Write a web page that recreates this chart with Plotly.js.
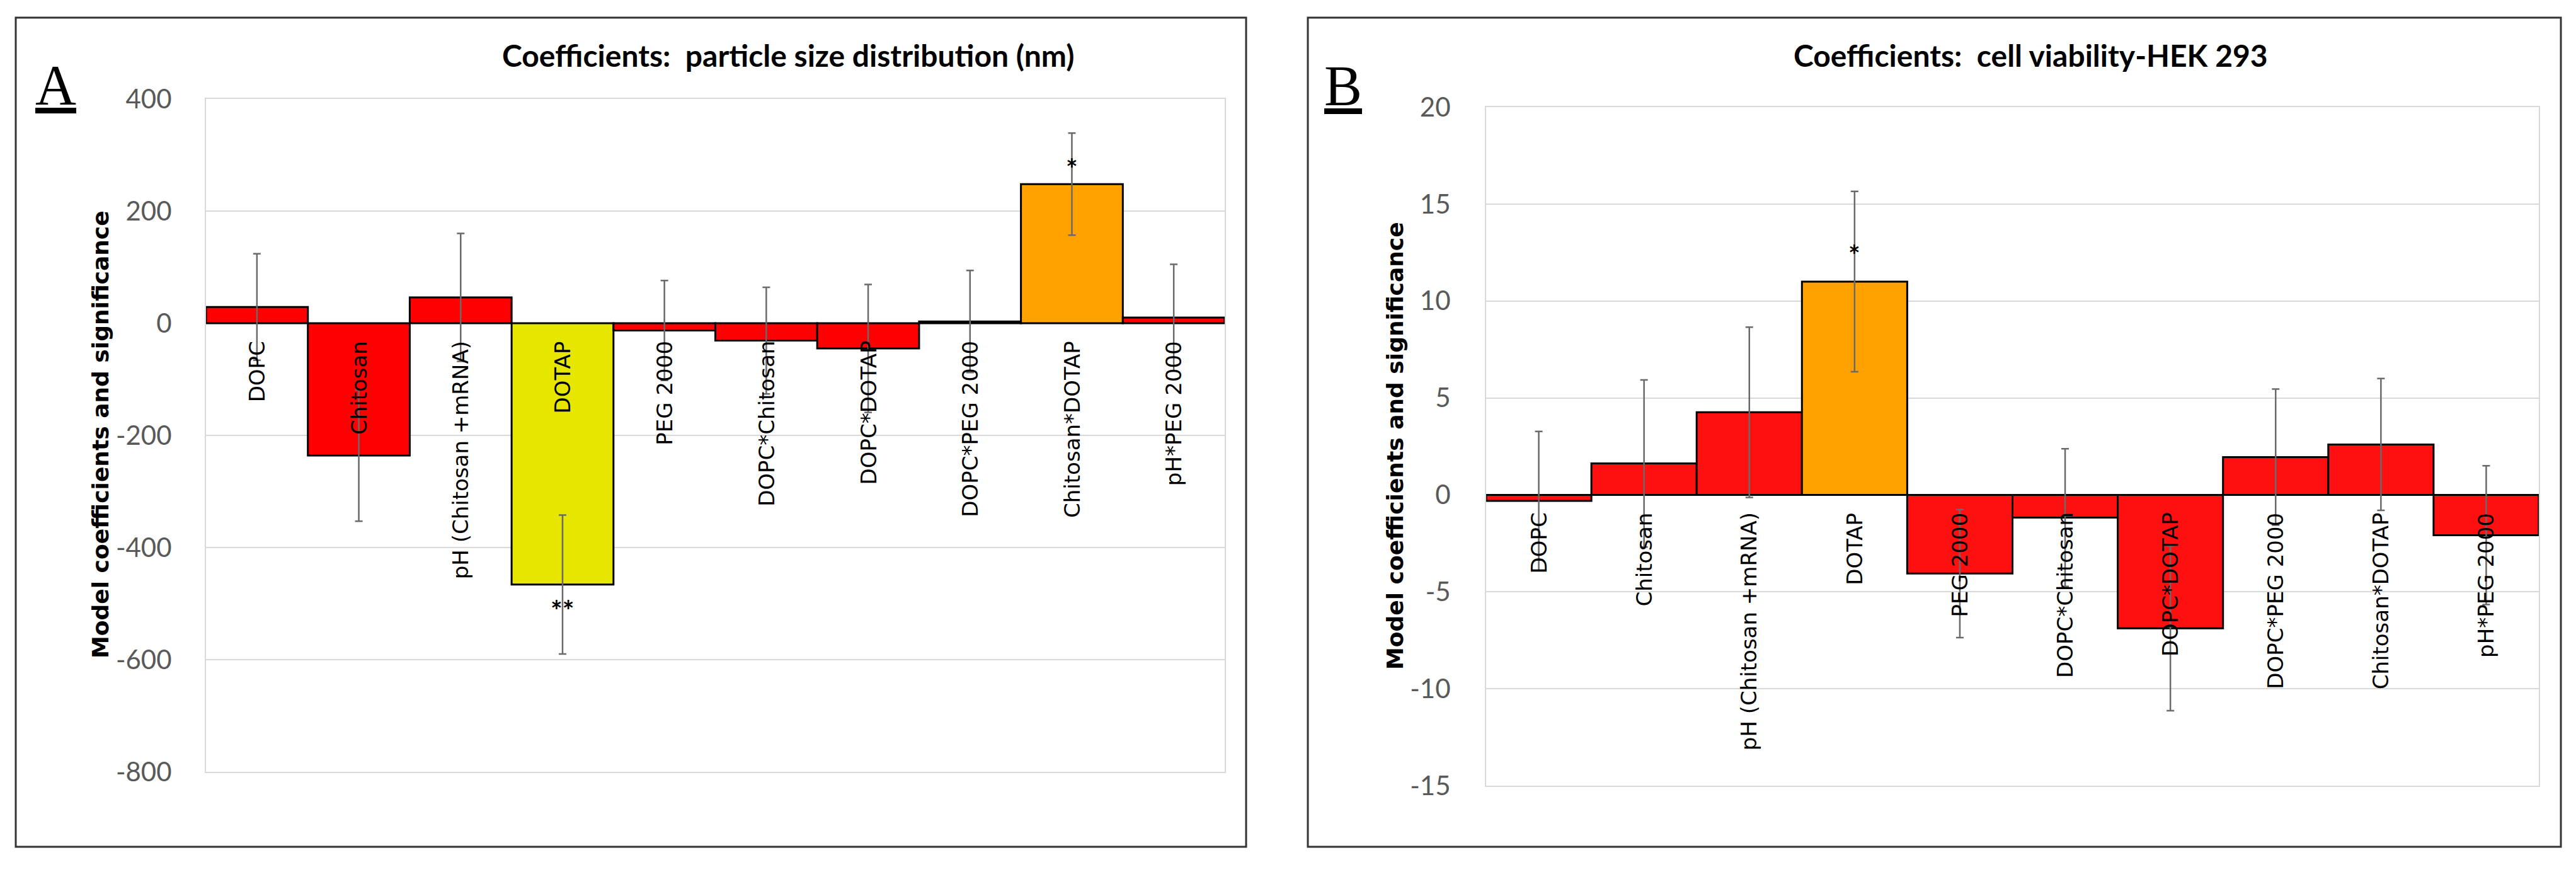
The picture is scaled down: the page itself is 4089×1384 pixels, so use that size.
<!DOCTYPE html>
<html>
<head>
<meta charset="utf-8">
<script src="https://cdn.plot.ly/plotly-3.0.1.min.js"></script>
<style>html,body{margin:0;padding:0;background:#fff;} #chart{width:4089px;height:1384px;}</style>
</head>
<body>
<div id="chart"></div>
<script>
// ---- data ----
var categories = ['DOPC','Chitosan','pH (Chitosan +mRNA)','DOTAP','PEG 2000','DOPC*Chitosan','DOPC*DOTAP','DOPC*PEG 2000','Chitosan*DOTAP','pH*PEG 2000'];
var sizeCoef = [29, -236, 46, -466, -13, -31, -45, 3, 248, 10];
var sizeErr  = [95, 117, 114, 124, 89, 95, 114, 91, 91, 95];
var sizeSig  = ['', '', '', '**', '', '', '', '', '*', ''];
var vivCoef  = [-0.31, 1.62, 4.26, 11.0, -4.06, -1.17, -6.88, 1.95, 2.6, -2.08];
var vivErr   = [3.58, 4.31, 4.39, 4.65, 3.3, 3.55, 4.25, 3.51, 3.4, 3.58];
var vivSig   = ['', '', '', '*', '', '', '', '', '', ''];
var sizeTicks = [400, 200, 0, -200, -400, -600, -800];
var vivTicks  = [20, 15, 10, 5, 0, -5, -10, -15];
var titleA = 'Coefficients:\u00a0 particle size distribution (nm)';
var titleB = 'Coefficients:\u00a0 cell viability-HEK 293';
var yTitle = 'Model coefficients and significance';

// ---- styling ----
var W = 4089, H = 1384;
function px(x){ return x / W; }
function py(y){ return 1 - y / H; }
var RED = '#FF0000', YELLOW = '#E6E600', ORANGE = '#FFA200';
var sizeColors = categories.map(function(c){ return c === 'DOTAP' ? YELLOW : (c === 'Chitosan*DOTAP' ? ORANGE : RED); });
var vivColors  = categories.map(function(c){ return c === 'DOTAP' ? ORANGE : '#FF1010'; });

function barTrace(vals, errs, colors, xa, ya){
  return {
    type: 'bar', x: categories, y: vals, xaxis: xa, yaxis: ya,
    marker: {color: colors, line: {color: '#000000', width: 3}},
    error_y: {type: 'data', array: errs, visible: true, color: '#6a6a6a', thickness: 2.5, width: 6},
    hoverinfo: 'skip', showlegend: false
  };
}

var data = [
  barTrace(sizeCoef, sizeErr, sizeColors, 'x', 'y'),
  barTrace(vivCoef, vivErr, vivColors, 'x2', 'y2')
];

var tickFont = {family: 'Lato, Carlito, sans-serif', size: 42, color: '#595959'};
function xAxis(dom, anchor){
  return {domain: dom, anchor: anchor, type: 'category', showticklabels: false, ticks: '',
    showgrid: false, zeroline: false, showline: true, mirror: true, linecolor: '#D9D9D9', linewidth: 2,
    fixedrange: true};
}
function yAxis(dom, anchor, range, ticks, standoff){
  return {domain: dom, anchor: anchor, range: range, tickmode: 'array',
    tickvals: ticks, ticktext: ticks.map(function(v){ return String(v); }), ticks: '',
    tickfont: tickFont, ticklabelstandoff: standoff,
    showgrid: true, gridcolor: '#D9D9D9', gridwidth: 2,
    zeroline: true, zerolinecolor: '#404040', zerolinewidth: 2,
    showline: true, mirror: true, linecolor: '#D9D9D9', linewidth: 2, fixedrange: true};
}

var annotations = [];
function catLabels(xref, yref){
  categories.forEach(function(c){
    annotations.push({x: c, y: 0, xref: xref, yref: yref, text: c, textangle: -90,
      showarrow: false, xanchor: 'center', yanchor: 'top', yshift: -26,
      font: {family: 'DejaVu Sans, Verdana, sans-serif', size: 34, color: '#000'}});
  });
}
catLabels('x', 'y');
catLabels('x2', 'y2');

function sigLabels(sig, vals, xref, yref, shiftUp, shiftDown){
  sig.forEach(function(s, i){
    if (!s) return;
    var up = vals[i] >= 0;
    annotations.push({x: categories[i], y: vals[i], xref: xref, yref: yref, text: '<b>' + s + '</b>',
      showarrow: false, xanchor: 'center', yanchor: 'middle', yshift: up ? shiftUp : -shiftDown,
      font: {family: 'Lato, Carlito, sans-serif', size: 44, color: '#000'}});
  });
}
sigLabels(sizeSig, sizeCoef, 'x', 'y', 25, 40);
sigLabels(vivSig, vivCoef, 'x2', 'y2', 43, 40);

var titleFont = {family: 'Lato, Carlito, sans-serif', size: 48, color: '#000'};
annotations.push({xref: 'paper', yref: 'paper', x: px(1251), y: py(87), text: '<b>' + titleA + '</b>', showarrow: false, xanchor: 'center', yanchor: 'middle', font: titleFont});
annotations.push({xref: 'paper', yref: 'paper', x: px(3223), y: py(87), text: '<b>' + titleB + '</b>', showarrow: false, xanchor: 'center', yanchor: 'middle', font: titleFont});

var ytFont = {family: 'DejaVu Sans, Verdana, sans-serif', size: 36, color: '#000'};
annotations.push({xref: 'paper', yref: 'paper', x: px(159), y: py(690), text: '<b>' + yTitle + '</b>', textangle: -90, showarrow: false, xanchor: 'center', yanchor: 'middle', font: ytFont});
annotations.push({xref: 'paper', yref: 'paper', x: px(2214), y: py(708), text: '<b>' + yTitle + '</b>', textangle: -90, showarrow: false, xanchor: 'center', yanchor: 'middle', font: ytFont});

var letterFont = {family: 'Liberation Serif, Times New Roman, serif', size: 90, color: '#000'};
annotations.push({xref: 'paper', yref: 'paper', x: px(88), y: py(135), text: '<u>A</u>', showarrow: false, xanchor: 'center', yanchor: 'middle', font: letterFont});
annotations.push({xref: 'paper', yref: 'paper', x: px(2132), y: py(136), text: '<u>B</u>', showarrow: false, xanchor: 'center', yanchor: 'middle', font: letterFont});

var shapes = [
  {type: 'rect', xref: 'paper', yref: 'paper', x0: px(25), x1: px(1978), y0: py(1344), y1: py(28), line: {color: '#333333', width: 3}},
  {type: 'rect', xref: 'paper', yref: 'paper', x0: px(2076), x1: px(4065), y0: py(1344), y1: py(28), line: {color: '#333333', width: 3}}
];

var layout = {
  width: W, height: H, margin: {l: 0, r: 0, t: 0, b: 0, pad: 0},
  paper_bgcolor: '#ffffff', plot_bgcolor: '#ffffff',
  bargap: 0, showlegend: false,
  xaxis: xAxis([px(327), px(1944)], 'y'),
  yaxis: yAxis([py(1225), py(157)], 'x', [-800, 400], sizeTicks, 44),
  xaxis2: xAxis([px(2359), px(4030)], 'y2'),
  yaxis2: yAxis([py(1247), py(170)], 'x2', [-15, 20], vivTicks, 46),
  annotations: annotations, shapes: shapes
};

Plotly.newPlot('chart', data, layout, {displayModeBar: false, staticPlot: true});
</script>
</body>
</html>
